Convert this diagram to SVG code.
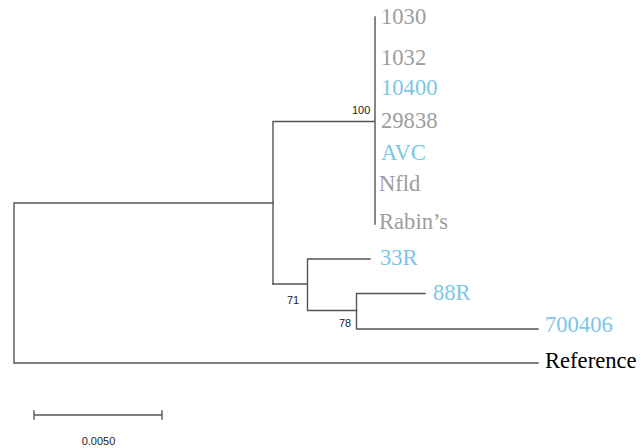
<svg xmlns="http://www.w3.org/2000/svg" width="641" height="448" viewBox="0 0 641 448">
<style>
.br{stroke:#555;stroke-width:1.4;fill:none;stroke-linecap:square}
.lab{font-family:"Liberation Serif",serif;font-size:22.6px}
.g{fill:#9d9d9d}
.b{fill:#7cc6e6}
.k{fill:#000}
.bs{font-family:"Liberation Sans",sans-serif;font-size:11px;fill:#222}
</style>
<rect width="641" height="448" fill="#fff"/>
<g id="connectors">
<path class="br" d="M14,203 V363 M14,203 H273 M14,363 H538"/>
<path class="br" d="M273,121.5 V284 M273,121.5 H375 M375,17 V224"/>
<path class="br" d="M273,284 H307.5 M307.5,259 V310.5 M307.5,259 H370 M307.5,310.5 H356.5"/>
<path class="br" d="M356.5,293.5 V329 M356.5,293.5 H425 M356.5,329 H538"/>
<path class="br" d="M34,415 H162 M34,411 V419 M162,411 V419"/>
</g>
<g id="leaf-1030"><text class="lab g" x="381" y="24">1030</text></g>
<g id="leaf-1032"><text class="lab g" x="381" y="65">1032</text></g>
<g id="leaf-10400"><text class="lab b" x="381" y="95">10400</text></g>
<g id="leaf-29838"><text class="lab g" x="381" y="128">29838</text></g>
<g id="leaf-AVC"><text class="lab b" x="381" y="160">AVC</text></g>
<g id="leaf-Nfld"><text class="lab g" x="379" y="191">Nfld</text></g>
<g id="leaf-Rabins"><text class="lab g" x="379" y="229">Rabin’s</text></g>
<g id="leaf-33R"><text class="lab b" x="380" y="265">33R</text></g>
<g id="leaf-88R"><text class="lab b" x="433" y="300">88R</text></g>
<g id="leaf-700406"><text class="lab b" x="545" y="332">700406</text></g>
<g id="leaf-Reference"><text class="lab k" x="545" y="368">Reference</text></g>
<g id="bootstrap">
<text class="bs" x="352" y="114">100</text>
<text class="bs" x="287" y="304">71</text>
<text class="bs" x="339" y="327">78</text>
</g>
<g id="scale"><text class="bs" x="98.5" y="445" text-anchor="middle">0.0050</text></g>
</svg>
